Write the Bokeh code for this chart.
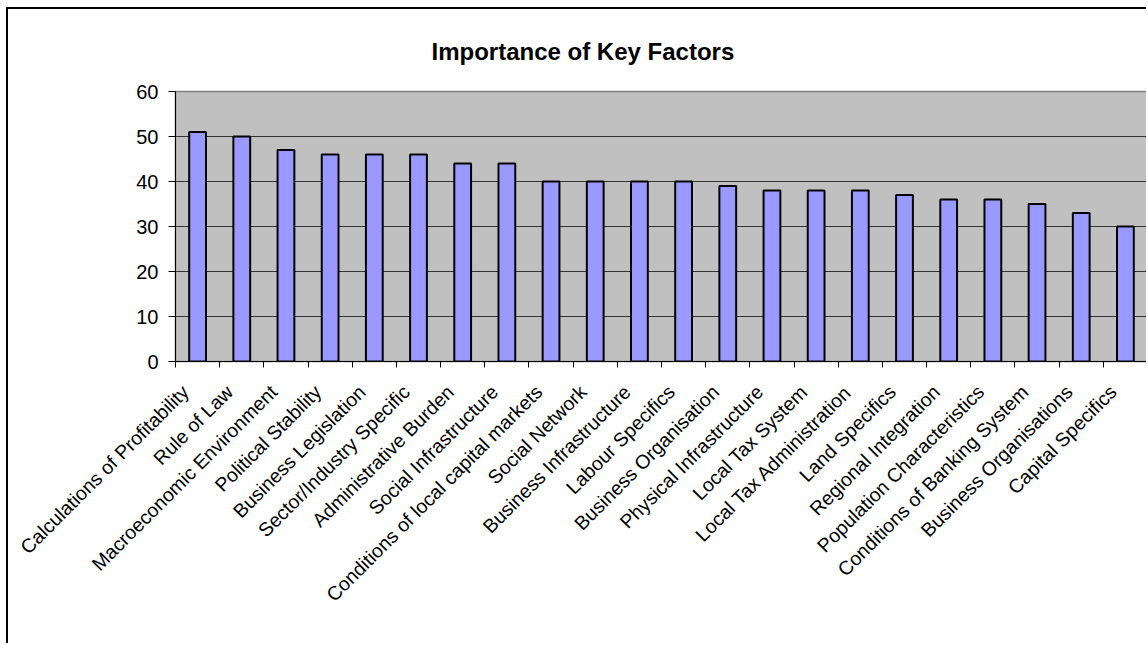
from bokeh.plotting import figure
from bokeh.models import (Range1d, LinearAxis, FixedTicker, Title,
                          ColumnDataSource)
from bokeh.embed import file_html
from bokeh.resources import INLINE
import math

# Survey factors and their importance scores
factors = [
    "Calculations of Profitability", "Rule of Law", "Macroeconomic Environment",
    "Political Stability", "Business Legislation", "Sector/Industry Specific",
    "Administrative Burden", "Social Infrastructure",
    "Conditions of local capital markets", "Social Network",
    "Business Infrastructure", "Labour Specifics", "Business Organisation",
    "Physical Infrastructure", "Local Tax System", "Local Tax Administration",
    "Land Specifics", "Regional Integration", "Population Characteristics",
    "Conditions of Banking System", "Business Organisations", "Capital Specifics",
]
scores = [51, 50, 47, 46, 46, 46, 44, 44, 40, 40, 40, 40, 39, 38, 38, 38,
          37, 36, 36, 35, 33, 30]
y_ticks = [0, 10, 20, 30, 40, 50, 60]

FONT = "Liberation Sans"
n = len(factors)

# each category occupies one unit slot; bars sit in the slot centres
centres = [i + 0.5 for i in range(n)]
src = ColumnDataSource(data=dict(x=centres, factor=factors, score=scores))

p = figure(
    x_range=Range1d(0, n),
    y_range=Range1d(0, 60),
    width=1140, height=636,
    output_backend="svg", toolbar_location=None,
    x_axis_location=None, y_axis_location=None,
    min_border_left=167, min_border_right=1,
    min_border_top=82, min_border_bottom=284,
)
p.styles = {"margin-left": "6px", "margin-top": "7px",
            "border-left": "2px solid black", "border-top": "2px solid black"}

p.background_fill_color = "#C0C0C0"
p.border_fill_color = "white"
p.outline_line_color = "#808080"
p.outline_line_width = 1.5

# Title, placed over the middle of the whole chart area
t = Title(text="Importance of Key Factors", align="left",
          text_font=FONT, text_font_size="24px", text_font_style="bold",
          text_color="black", text_line_height=1.0,
          standoff=53, offset=256)
p.add_layout(t, "above")

# Value axis
yax = LinearAxis(ticker=FixedTicker(ticks=y_ticks))
yax.axis_line_color = "black"
yax.axis_line_width = 1
yax.major_tick_line_color = "black"
yax.major_tick_out = 7
yax.major_tick_in = 0
yax.minor_tick_line_color = None
yax.major_label_text_font = FONT
yax.major_label_text_font_size = "20px"
yax.major_label_text_color = "black"
yax.major_label_standoff = 10
p.add_layout(yax, "left")

# Category boundary ticks along the bottom
edges = list(range(n + 1))
edge_ax = LinearAxis(ticker=FixedTicker(ticks=edges))
edge_ax.axis_line_color = "black"
edge_ax.major_tick_line_color = "black"
edge_ax.major_tick_out = 6
edge_ax.major_tick_in = 0
edge_ax.minor_tick_line_color = None
edge_ax.major_label_overrides = {e: "" for e in edges}
edge_ax.major_label_text_font_size = "0px"
edge_ax.major_label_standoff = 0
p.add_layout(edge_ax, "below")

# Category labels, rotated; the text's end sits just left of the slot centre
label_pos = [c - 0.28 for c in centres]
cat_ax = LinearAxis(ticker=FixedTicker(ticks=label_pos))
cat_ax.major_label_overrides = {c: f for c, f in zip(label_pos, factors)}
cat_ax.axis_line_color = None
cat_ax.major_tick_line_color = None
cat_ax.minor_tick_line_color = None
cat_ax.major_tick_out = 0
cat_ax.major_tick_in = 0
cat_ax.major_label_orientation = math.pi / 4
cat_ax.major_label_text_font = FONT
cat_ax.major_label_text_font_size = "19.5px"
cat_ax.major_label_text_color = "black"
cat_ax.major_label_standoff = 21
p.add_layout(cat_ax, "below")

p.xgrid.grid_line_color = None
p.ygrid.ticker = FixedTicker(ticks=y_ticks)
p.ygrid.grid_line_color = "#333333"
p.ygrid.grid_line_width = 1

p.vbar(x="x", top="score", width=0.38, source=src,
       fill_color="#9999FF", line_color="black", line_width=2)

open("out.html", "w").write(file_html(p, INLINE))
